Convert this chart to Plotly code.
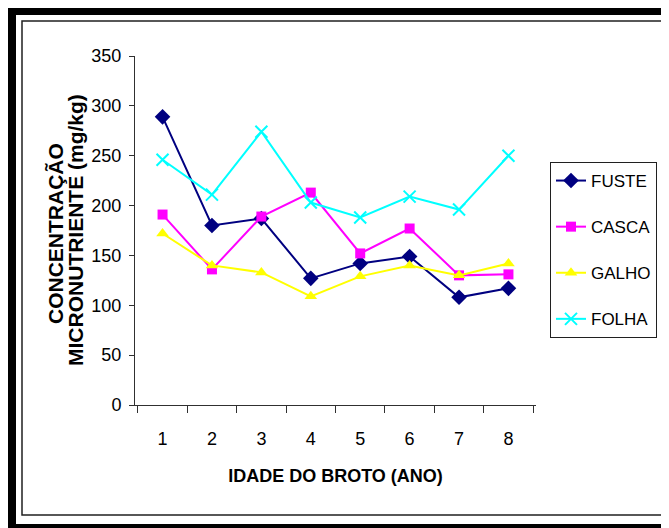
import plotly.graph_objects as go

# ---- data ----
idades = ["1", "2", "3", "4", "5", "6", "7", "8"]
fuste = [289, 180, 187, 127, 142, 149, 108, 117]
casca = [191, 136, 189, 213, 152, 177, 130, 131]
galho = [172, 140, 133, 109, 129, 140, 130, 142]
folha = [246, 211, 274, 203, 188, 209, 196, 250]

series_names = ["FUSTE", "CASCA", "GALHO", "FOLHA"]
series_values = [fuste, casca, galho, folha]
series_colors = ["#000080", "#FF00FF", "#FFFF00", "#00FFFF"]
series_symbols = ["diamond", "square", "triangle-up", "x-thin"]
series_sizes = [12, 10, 11, 12]

y_ticks = [0, 50, 100, 150, 200, 250, 300, 350]

# the page body has an 8px margin, so the figure is 8px smaller and
# all positions below are given in window pixels minus 8
OFF = 8
W, H = 669 - OFF, 528 - OFF
L, R, T, B = 135 - OFF, 536 - OFF, 56 - OFF, 405 - OFF  # plot area

FONT = "Liberation Sans, Arial, sans-serif"


def px(x):
    """window pixel x -> paper coordinate"""
    return (x - OFF - L) / (R - L)


def py(y):
    """window pixel y -> paper coordinate"""
    return (B - (y - OFF)) / (B - T)


fig = go.Figure()
for name, vals, col, sym, sz in zip(series_names, series_values, series_colors,
                                    series_symbols, series_sizes):
    marker = dict(symbol=sym, size=sz, color=col)
    if sym == "x-thin":
        marker["line"] = dict(color=col, width=2)
    fig.add_trace(go.Scatter(
        x=idades, y=vals, name=name, mode="lines+markers",
        line=dict(color=col, width=2), marker=marker,
        legendgroup=name,
    ))

shapes = [
    # thick black outer frame pieces
    dict(type="rect", xref="paper", yref="paper", x0=px(7), x1=px(700), y0=py(5), y1=py(15),
         fillcolor="black", line=dict(width=0), layer="below"),
    dict(type="rect", xref="paper", yref="paper", x0=px(7), x1=px(16), y0=py(5), y1=py(560),
         fillcolor="black", line=dict(width=0), layer="below"),
    dict(type="rect", xref="paper", yref="paper", x0=px(7), x1=px(700), y0=py(524), y1=py(560),
         fillcolor="black", line=dict(width=0), layer="below"),
    # thin inner frame
    dict(type="rect", xref="paper", yref="paper", x0=px(22), x1=px(666), y0=py(21), y1=py(515),
         line=dict(color="#202020", width=1.5), layer="below"),
]

annotations = [
    dict(text="<b>CONCENTRAÇÃO</b>", xref="paper", yref="paper", x=px(55), y=py(234),
         xanchor="center", yanchor="middle", textangle=-90, showarrow=False,
         font=dict(family=FONT, size=21, color="black")),
    dict(text="<b>MICRONUTRIENTE (mg/kg)</b>", xref="paper", yref="paper", x=px(75), y=py(230),
         xanchor="center", yanchor="middle", textangle=-90, showarrow=False,
         font=dict(family=FONT, size=21, color="black")),
]

fig.update_layout(
    width=W, height=H,
    margin=dict(l=L, r=W - R, t=T, b=H - B),
    paper_bgcolor="white", plot_bgcolor="white",
    font=dict(family=FONT, size=18, color="black"),
    showlegend=True,
    legend=dict(
        x=px(550), y=py(162), xanchor="left", yanchor="top",
        bordercolor="#202020", borderwidth=1, bgcolor="white",
        font=dict(family=FONT, size=17, color="black"),
        tracegroupgap=21, traceorder="grouped",
    ),
    shapes=shapes,
    annotations=annotations,
    xaxis=dict(
        type="category", tickson="boundaries", ticks="outside", ticklen=7,
        tickcolor="#303030", showline=True, linecolor="#303030", linewidth=1,
        showgrid=False, zeroline=False, ticklabelstandoff=17,
        tickfont=dict(family=FONT, size=18),
        title=dict(text="<b>IDADE DO BROTO (ANO)</b>", font=dict(family=FONT, size=18), standoff=21),
    ),
    yaxis=dict(
        range=[0, 350], tickvals=y_ticks, ticks="outside", ticklen=5,
        tickcolor="#303030", showline=True, linecolor="#303030", linewidth=1,
        showgrid=False, zeroline=False, ticklabelstandoff=4,
        tickfont=dict(family=FONT, size=18),
    ),
)

fig.write_html("out.html")
